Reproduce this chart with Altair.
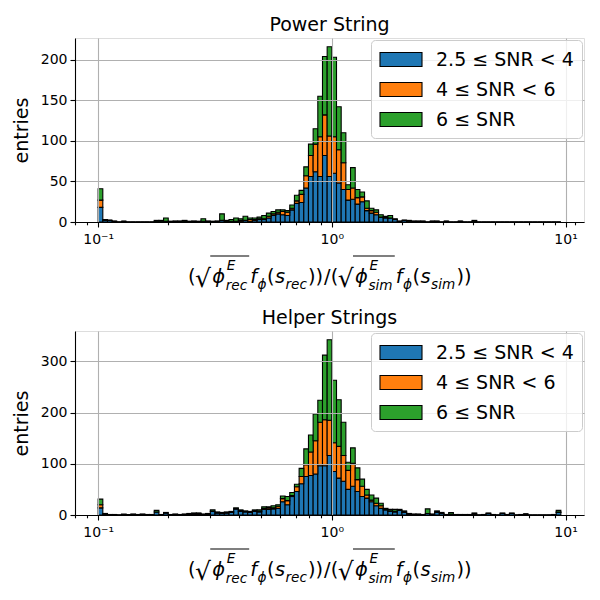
import altair as alt
import pandas as pd

# ---------------- data ----------------
series_labels = ["2.5 ≤ SNR < 4", "4 ≤ SNR < 6", "6 ≤ SNR"]
series_colors = ["#1f77b4", "#ff7f0e", "#2ca02c"]

# 99 logarithmic bins, 0.02 decades wide, from 0.1 up to ~9.55
n_bins = 99
log_lo, log_step = -1.0, 0.02
bin_edges = [10 ** (log_lo + log_step * i) for i in range(n_bins + 1)]

power_low = [18, 2, 2, 1, 0, 1, 0, 0, 0, 0, 0, 0, 1, 1, 1, 0, 1, 1, 1, 0,
             1, 0, 1, 1, 0, 1, 2, 1, 1, 1, 1, 2, 1, 2, 3, 3, 5, 8, 10, 9,
             8, 15, 23, 24, 42, 56, 62, 56, 82, 56, 60, 48, 40, 27, 28, 22, 25, 14, 11, 9,
             6, 5, 5, 3, 1, 2, 1, 1, 1, 1, 0, 1, 1, 0, 1, 0, 0, 1, 0, 0,
             1, 0, 0, 0, 0, 0, 0, 0, 0, 0, 0, 0, 0, 0, 0, 0, 0, 0, 0]
power_mid = [9, 0, 0, 0, 0, 0, 0, 0, 0, 0, 0, 0, 0, 0, 0, 0, 0, 0, 0, 0,
             0, 0, 0, 0, 0, 0, 0, 0, 0, 0, 1, 0, 2, 1, 1, 1, 2, 2, 2, 4,
             4, 2, 3, 10, 15, 26, 34, 49, 50, 50, 45, 41, 33, 13, 14, 8, 6, 3, 3, 3,
             0, 1, 0, 0, 0, 0, 0, 0, 0, 0, 0, 0, 0, 0, 0, 0, 0, 0, 0, 0,
             0, 0, 0, 0, 0, 0, 0, 0, 0, 0, 0, 0, 0, 0, 0, 0, 0, 0, 0]
power_high = [14, 1, 0, 0, 0, 0, 0, 0, 0, 0, 0, 0, 1, 1, 4, 1, 0, 0, 1, 1,
              0, 1, 3, 0, 1, 0, 8, 1, 2, 4, 2, 5, 2, 2, 2, 4, 4, 3, 3, 2,
              2, 4, 7, 5, 11, 14, 19, 50, 72, 110, 98, 53, 37, 6, 25, 10, 6, 9, 3, 3,
              3, 1, 3, 1, 0, 0, 1, 0, 0, 0, 0, 0, 0, 0, 0, 0, 0, 0, 0, 0,
              1, 0, 0, 0, 0, 0, 0, 0, 0, 0, 0, 0, 0, 0, 0, 0, 0, 0, 0]

helper_low = [14, 2, 1, 1, 0, 1, 1, 1, 1, 1, 1, 1, 6, 1, 4, 1, 1, 1, 1, 2,
              2, 2, 1, 2, 7, 4, 3, 4, 5, 12, 7, 6, 5, 7, 6, 11, 11, 12, 13, 26,
              20, 36, 46, 61, 75, 77, 80, 96, 96, 116, 85, 72, 66, 50, 56, 46, 36, 33, 26, 18,
              13, 10, 7, 6, 9, 5, 2, 1, 1, 1, 3, 1, 5, 3, 1, 2, 1, 1, 0, 1,
              2, 0, 1, 3, 1, 0, 3, 1, 3, 0, 1, 2, 0, 0, 0, 0, 0, 1, 5]
helper_mid = [6, 0, 0, 0, 0, 0, 0, 0, 0, 0, 0, 0, 0, 0, 0, 0, 0, 0, 0, 0,
              0, 1, 0, 0, 0, 0, 1, 0, 0, 0, 1, 1, 1, 1, 1, 2, 3, 2, 4, 6,
              8, 2, 9, 14, 23, 46, 65, 85, 90, 69, 56, 62, 50, 37, 45, 23, 20, 6, 3, 5,
              5, 1, 1, 1, 0, 1, 0, 0, 0, 0, 0, 0, 1, 0, 0, 0, 0, 0, 0, 0,
              0, 0, 0, 0, 0, 0, 0, 0, 0, 0, 0, 0, 0, 0, 0, 0, 0, 0, 1]
helper_high = [11, 1, 0, 0, 0, 1, 0, 1, 0, 1, 0, 0, 3, 0, 1, 0, 1, 0, 1, 1,
               2, 1, 1, 1, 3, 2, 1, 2, 2, 2, 2, 1, 1, 2, 3, 3, 2, 4, 3, 5,
               8, 6, 5, 16, 31, 33, 52, 43, 126, 157, 122, 91, 65, 16, 30, 23, 14, 11, 10, 10,
               5, 2, 3, 4, 2, 2, 1, 1, 1, 0, 9, 1, 2, 2, 0, 3, 0, 0, 1, 0,
               2, 0, 0, 1, 0, 0, 1, 0, 1, 0, 0, 0, 0, 0, 0, 0, 0, 0, 3]

power_yticks = [0, 50, 100, 150, 200]
helper_yticks = [0, 100, 200, 300]
x_major = [0.1, 1, 10]
x_minor = [0.08, 0.09] + [m / 10 for m in range(2, 10)] + list(range(2, 10)) + [11]
x_ticks = sorted(x_major + x_minor)
x_domain = [10 ** -1.099, 10 ** 1.079]

FONT = "DejaVu Sans"
W, H = 509, 184
GRID = "#b0b0b0"

major_test = "abs(log(datum.value)/LN10 - round(log(datum.value)/LN10)) < 0.001"
label_expr = ("datum.value < 0.11 && datum.value > 0.099 ? '10⁻¹' : "
              "(datum.value > 0.99 && datum.value < 1.01 ? '10⁰' : "
              "(datum.value > 9.9 && datum.value < 10.1 ? '10¹' : ''))")

# ---- x-axis label, typeset piece by piece (mathtext look-alike) ----
MAIN, SUB = 19.4, 13.6
CHAR_EM = {"(": 0.39, ")": 0.39, "/": 0.337, "ϕ": 0.66, "E": 0.632, "r": 0.411,
           "e": 0.615, "c": 0.55, "s": 0.521, "i": 0.278, "m": 0.974, "f": 0.36,
           "√": 0.80}
SPREAD = 1.05


def text_w(t, fs):
    return sum(CHAR_EM.get(ch, 0.6) for ch in t) * fs * SPREAD


label_seq = [
    ("n", "("), ("r", "√"), ("i", "ϕ"), ("supsub", ("E", "rec")), ("gap", 2),
    ("i", "f"), ("sub", "ϕ"), ("n", "("), ("i", "s"), ("sub", "rec"), ("n", "))"),
    ("n", "/"),
    ("n", "("), ("r", "√"), ("i", "ϕ"), ("supsub", ("E", "sim")), ("gap", 2),
    ("i", "f"), ("sub", "ϕ"), ("n", "("), ("i", "s"), ("sub", "sim"), ("n", "))"),
]
LABEL_X0, BASE = 113, 245


def build_label():
    pieces, bars = [], []
    x = LABEL_X0
    rad_start = None
    for kind, t in label_seq:
        if kind == "gap":
            x += t
        elif kind == "n":
            pieces.append((t, x, BASE, MAIN, False))
            x += text_w(t, MAIN)
        elif kind == "i":
            pieces.append((t, x, BASE, MAIN, True))
            x += text_w(t, MAIN)
        elif kind == "r":
            pieces.append((t, x - 1, BASE + 4, 25, False))
            x += text_w(t, MAIN)
            rad_start = x - 2
        elif kind == "supsub":
            sup, sub = t
            pieces.append((sup, x + 1, BASE - 13, SUB, True))
            pieces.append((sub, x, BASE + 7, SUB, True))
            x += max(text_w(sup, SUB), text_w(sub, SUB))
            bars.append((rad_start, x + 1, BASE - 27))
            rad_start = None
        elif kind == "sub":
            pieces.append((t, x, BASE + 6, SUB, True))
            x += text_w(t, SUB)
    return pieces, bars


label_pieces, overlines = build_label()

one_row = alt.Data(values=[{}])


def make_panel(title, lows, mids, highs, yticks):
    rows = []
    for k, (name, counts) in enumerate(zip(series_labels, [lows, mids, highs])):
        for i, c in enumerate(counts):
            rows.append(dict(x0=bin_edges[i], x1=bin_edges[i + 1], count=c,
                             series=name, ord=k))
    df = pd.DataFrame(rows)
    ymax = max(a + b + c for a, b, c in zip(lows, mids, highs)) * 1.05

    bars = alt.Chart(df).transform_stack(
        stack="count", groupby=["x0"], as_=["y0", "y1"],
        sort=[alt.SortField("ord", order="ascending")],
    ).mark_rect(stroke="black", strokeWidth=1.1, opacity=1).encode(
        x=alt.X("x0:Q",
                scale=alt.Scale(type="log", domain=x_domain, nice=False),
                axis=alt.Axis(values=x_ticks, labelExpr=label_expr, title=None,
                              grid=True, gridColor=GRID, gridWidth=1.1,
                              gridOpacity={"condition": {"test": major_test, "value": 1}, "value": 0},
                              tickSize={"condition": {"test": major_test, "value": 5}, "value": 2.8},
                              tickColor="black", tickWidth=1.1,
                              domainColor="black", domainWidth=1.1,
                              labelFontSize=14, labelFont=FONT, labelColor="black",
                              labelPadding=5, labelFlush=False, labelOverlap=False,
                              zindex=1)),
        x2="x1:Q",
        y=alt.Y("y1:Q",
                scale=alt.Scale(domain=[0, ymax], nice=False),
                axis=alt.Axis(values=yticks, title="entries", grid=True,
                              gridColor=GRID, gridWidth=1.1,
                              tickSize=5, tickColor="black", tickWidth=1.1,
                              domainColor="black", domainWidth=1.1,
                              labelFontSize=14, labelFont=FONT, labelColor="black",
                              labelPadding=3, minExtent=32, maxExtent=32,
                              titleFontSize=19, titleFont=FONT, titleFontWeight="normal",
                              titleColor="black", titlePadding=12, zindex=1)),
        y2="y0:Q",
        color=alt.Color("series:N",
                        scale=alt.Scale(domain=series_labels, range=series_colors),
                        legend=alt.Legend(title=None, orient="top-right", offset=2,
                                          padding=8, rowPadding=8,
                                          symbolType="M-1,-0.66L3,-0.66L3,0.66L-1,0.66Z",
                                          symbolSize=441, symbolStrokeColor="black",
                                          symbolStrokeWidth=1.1, symbolOpacity=1,
                                          labelFontSize=19, labelFont=FONT,
                                          labelColor="black", labelOffset=34,
                                          labelLimit=300,
                                          strokeColor="#cccccc",
                                          fillColor="rgba(255,255,255,0.8)",
                                          cornerRadius=4, zindex=2)),
    )

    layers = [bars]
    for text, px, py, fs, italic in label_pieces:
        layers.append(
            alt.Chart(one_row).mark_text(
                text=text, align="left", baseline="alphabetic", fontSize=fs,
                fontStyle="italic" if italic else "normal", font=FONT, color="black"
            ).encode(x=alt.value(px), y=alt.value(py))
        )
    for a, b, yy in overlines:
        layers.append(
            alt.Chart(one_row).mark_rule(color="black", strokeWidth=1.1).encode(
                x=alt.value(a), x2=alt.value(b), y=alt.value(yy))
        )

    return alt.layer(*layers).properties(
        width=W, height=H,
        title=alt.TitleParams(title, fontSize=19, fontWeight="normal", font=FONT,
                              color="black", anchor="middle", offset=3),
    )


top = make_panel("Power String", power_low, power_mid, power_high, power_yticks)
bottom = make_panel("Helper Strings", helper_low, helper_mid, helper_high, helper_yticks)

chart = alt.vconcat(top, bottom, spacing=14).resolve_scale(color="independent").properties(
    padding={"left": 3, "top": 7, "right": 5, "bottom": 0}
).configure_view(stroke="black", strokeWidth=1.1).configure(font=FONT)

chart.save("out.html", embed_options={"renderer": "svg", "actions": False})
